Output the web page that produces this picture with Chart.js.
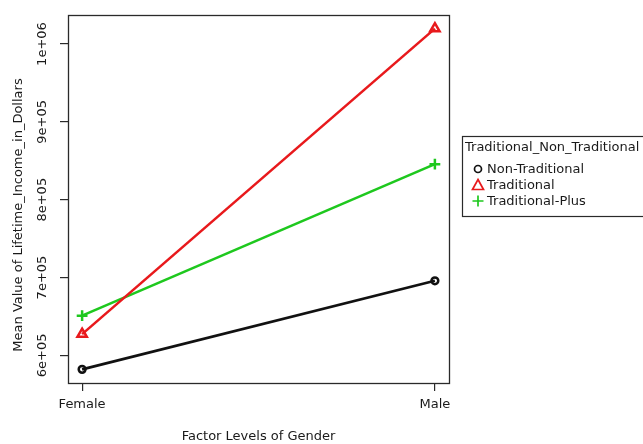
<!DOCTYPE html>
<html>
<head>
<meta charset="utf-8">
<script src="https://cdn.jsdelivr.net/npm/chart.js@4/dist/chart.umd.min.js"></script>
<style>
  html, body { margin: 0; padding: 0; background: #ffffff; }
  #wrap { width: 643px; height: 444px; }
</style>
</head>
<body>
<div id="wrap"><canvas id="c" width="643" height="444"></canvas></div>
<script>
// Mean lifetime income by gender, one line per tradition group
const genderLevels = ['Female', 'Male'];
const seriesNames = ['Non-Traditional', 'Traditional', 'Traditional-Plus'];
const nonTraditional = [582000, 695800];
const traditional = [627300, 1019800];
const traditionalPlus = [651000, 845700];
const yTickValues = [600000, 700000, 800000, 900000, 1000000];
const yTickLabels = ['6e+05', '7e+05', '8e+05', '9e+05', '1e+06'];
const legendTitle = 'Traditional_Non_Traditional';
const xTitle = 'Factor Levels of Gender';
const yTitle = 'Mean Value of Lifetime_Income_in_Dollars';

const FONT = '"DejaVu Sans", "Liberation Sans", sans-serif';
const INK = '#1a1a1a';
const seriesColors = ['#111111', '#e8191c', '#1ec81e'];
const seriesPoints = ['circle', 'triangle', 'cross'];
const seriesValues = [nonTraditional, traditional, traditionalPlus];

// 4% padding on both ends of the value range
const allVals = seriesValues.flat();
const vMin = Math.min(...allVals), vMax = Math.max(...allVals);
const pad = (vMax - vMin) * 0.04;

const datasets = seriesNames.map((name, i) => ({
  label: name,
  data: seriesValues[i].map((v, j) => ({ x: j + 1, y: v })),
  borderColor: seriesColors[i],
  backgroundColor: 'rgba(0,0,0,0)',
  borderWidth: 2.6,
  pointStyle: seriesPoints[i],
  pointRadius: seriesPoints[i] === 'circle' ? 3.4 : 5.4,
  pointBorderWidth: 2.5,
  pointBorderColor: seriesColors[i],
  pointBackgroundColor: 'rgba(0,0,0,0)',
  tension: 0
}));

const decor = {
  id: 'decor',
  afterDraw(chart) {
    const { ctx, chartArea: a, scales } = chart;
    const ys = scales.y;
    ctx.save();
    // plot box
    ctx.strokeStyle = '#2a2a2a';
    ctx.lineWidth = 1.3;
    ctx.strokeRect(a.left + 0.5, a.top + 0.5, a.right - a.left, a.bottom - a.top);

    ctx.fillStyle = INK;
    ctx.font = '13px ' + FONT;
    ctx.textAlign = 'center';
    ctx.textBaseline = 'middle';
    // rotated value labels
    yTickValues.forEach((v, i) => {
      const py = ys.getPixelForValue(v);
      ctx.save();
      ctx.translate(43, py);
      ctx.rotate(-Math.PI / 2);
      ctx.fillText(yTickLabels[i], 0, 0);
      ctx.restore();
    });
    // axis titles
    ctx.save();
    ctx.translate(19, 215);
    ctx.rotate(-Math.PI / 2);
    ctx.fillText(yTitle, 0, 0);
    ctx.restore();
    ctx.fillText(xTitle, (a.left + a.right) / 2, 437);

    // legend
    const lx = 462, ly = 136, lh = 80;
    ctx.strokeStyle = '#2a2a2a';
    ctx.lineWidth = 1.2;
    ctx.strokeRect(lx + 0.5, ly + 0.5, 200, lh);
    ctx.textAlign = 'left';
    ctx.fillText(legendTitle, 465, 148);
    chart.data.datasets.forEach((ds, i) => {
      const cy = 169 + i * 16;
      const cx = 478;
      ctx.strokeStyle = ds.borderColor;
      ctx.lineWidth = 1.7;
      ctx.beginPath();
      if (ds.pointStyle === 'circle') {
        ctx.arc(cx, cy, 3.5, 0, Math.PI * 2);
      } else if (ds.pointStyle === 'triangle') {
        ctx.moveTo(cx, cy - 5.5);
        ctx.lineTo(cx + 5.5, cy + 4.5);
        ctx.lineTo(cx - 5.5, cy + 4.5);
        ctx.closePath();
      } else {
        ctx.moveTo(cx - 5.5, cy); ctx.lineTo(cx + 5.5, cy);
        ctx.moveTo(cx, cy - 5.5); ctx.lineTo(cx, cy + 5.5);
      }
      ctx.stroke();
      ctx.fillStyle = INK;
      ctx.fillText(ds.label, 487, cy + 0.5);
    });
    ctx.restore();
  }
};

new Chart(document.getElementById('c'), {
  type: 'line',
  data: { datasets },
  options: {
    responsive: false,
    animation: false,
    devicePixelRatio: 1,
    layout: { padding: { top: 15, right: 194, left: 0, bottom: 0 } },
    plugins: { legend: { display: false }, tooltip: { enabled: false } },
    scales: {
      x: {
        type: 'linear',
        min: 1 - 0.04,
        max: 2 + 0.04,
        afterBuildTicks: s => { s.ticks = genderLevels.map((_, i) => ({ value: i + 1 })); },
        afterFit: s => { s.height = 61; },
        border: { display: false },
        grid: { drawOnChartArea: false, drawTicks: true, tickLength: 8, color: '#2a2a2a', lineWidth: 1.2 },
        ticks: {
          color: INK,
          font: { family: FONT, size: 13 },
          padding: 6,
          maxRotation: 0,
          callback: v => genderLevels[Math.round(v) - 1]
        }
      },
      y: {
        type: 'linear',
        min: vMin - pad,
        max: vMax + pad,
        afterBuildTicks: s => { s.ticks = yTickValues.map(v => ({ value: v })); },
        afterFit: s => { s.width = 68; },
        border: { display: false },
        grid: { drawOnChartArea: false, drawTicks: true, tickLength: 8, color: '#2a2a2a', lineWidth: 1.2 },
        ticks: { display: false }
      }
    }
  },
  plugins: [decor]
});
</script>
</body>
</html>
